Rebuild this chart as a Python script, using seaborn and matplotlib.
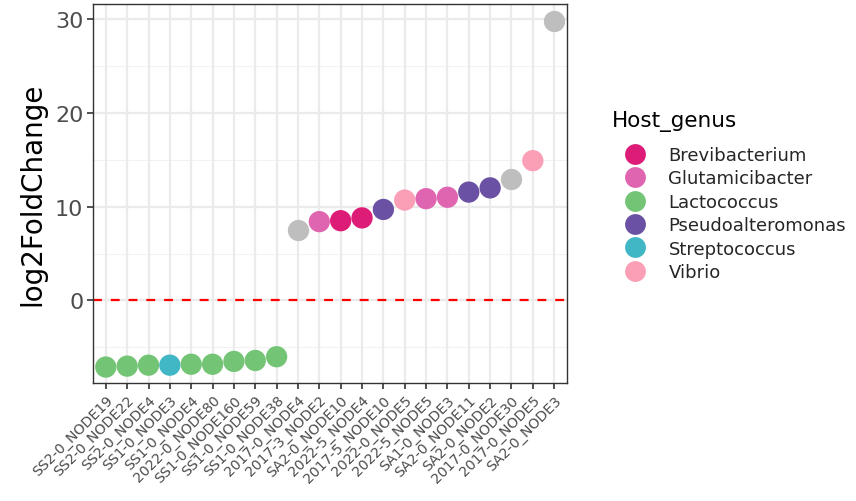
import matplotlib
matplotlib.use("Agg")
import matplotlib.pyplot as plt
import seaborn as sns
import pandas as pd
import numpy as np

# Nodes ordered by fold change
nodes = [
    "SS2-0_NODE19", "SS2-0_NODE22", "SS2-0_NODE4", "SS1-0_NODE3", "SS1-0_NODE4",
    "2022-0_NODE80", "SS1-0_NODE160", "SS1-0_NODE59", "SS1-0_NODE38",
    "2017-0_NODE4", "2017-3_NODE2", "SA2-0_NODE10", "2022-5_NODE4",
    "2017-5_NODE10", "2022-0_NODE5", "2022-5_NODE5", "SA1-0_NODE3",
    "SA2-0_NODE11", "SA2-0_NODE2", "2017-0_NODE30", "2017-0_NODE5", "SA2-0_NODE3",
]
log2fc = [
    -7.1, -7.0, -6.9, -6.9, -6.8, -6.8, -6.5, -6.4, -6.0,
    7.55, 8.4, 8.5, 8.8, 9.7, 10.7, 10.85, 11.0, 11.55, 12.0, 12.9, 14.9, 29.8,
]
host_genus = [
    "Lactococcus", "Lactococcus", "Lactococcus", "Streptococcus", "Lactococcus",
    "Lactococcus", "Lactococcus", "Lactococcus", "Lactococcus",
    None, "Glutamicibacter", "Brevibacterium", "Brevibacterium",
    "Pseudoalteromonas", "Vibrio", "Glutamicibacter", "Glutamicibacter",
    "Pseudoalteromonas", "Pseudoalteromonas", None, "Vibrio", None,
]

genera = ["Brevibacterium", "Glutamicibacter", "Lactococcus",
          "Pseudoalteromonas", "Streptococcus", "Vibrio"]
genus_colors = ["#DD1C77", "#DF65B0", "#74C476", "#6A51A3", "#41B6C4", "#FA9FB5"]
na_color = "#BEBEBE"

df = pd.DataFrame({"node": nodes, "log2FoldChange": log2fc, "Host_genus": host_genus})
df["node"] = pd.Categorical(df["node"], categories=nodes, ordered=True)
df["x"] = df["node"].cat.codes

sns.set_theme(style="white")
plt.rcParams["font.family"] = ["DejaVu Sans"]

fig = plt.figure(figsize=(8.56, 5.02), dpi=100)
ax = fig.add_axes([93 / 856, 1 - 384 / 502, (567 - 93) / 856, (384 - 5) / 502])

# grid lines (major + minor on y)
for yv in [-5, 5, 15, 25]:
    ax.axhline(yv, color="#F2F2F2", lw=0.8, zorder=0)
for yv in [0, 10, 20, 30]:
    ax.axhline(yv, color="#EBEBEB", lw=1.6, zorder=0)
for xv in range(len(nodes)):
    ax.axvline(xv, color="#EBEBEB", lw=1.6, zorder=0)

ax.axhline(0, color="#FF0000", lw=1.6, ls=(0, (4, 4)), zorder=1)

point_size = 235
na = df[df["Host_genus"].isna()]
ax.scatter(na["x"], na["log2FoldChange"], s=point_size, color=na_color,
           linewidths=0, zorder=2)

sns.scatterplot(
    data=df.dropna(subset=["Host_genus"]), x="x", y="log2FoldChange",
    hue="Host_genus", hue_order=genera, palette=genus_colors,
    s=point_size, linewidth=0, ax=ax, zorder=3, legend=False,
)

ax.set_xlim(-0.6, len(nodes) - 0.4)
ax.set_ylim(-8.8, 31.6)
ax.set_xticks(range(len(nodes)))
ax.set_xticklabels(nodes, rotation=45, ha="right", rotation_mode="anchor",
                   fontsize=10.2, color="#4D4D4D")
ax.set_yticks([0, 10, 20, 30])
ax.set_yticklabels(["0", "10", "20", "30"], fontsize=16, color="#4D4D4D")
ax.tick_params(axis="both", length=4, width=1.2, color="#333333",
               bottom=True, left=True, pad=3)
ax.set_xlabel("")
ax.set_ylabel("log2FoldChange", fontsize=20, color="black", labelpad=6)
for sp in ax.spines.values():
    sp.set_color("#333333")
    sp.set_linewidth(1.0)

# legend: title placed on its own, keys below
fig.text(612 / 856, 1 - 122 / 502, "Host_genus", fontsize=15.5,
         ha="left", va="center", color="black")
handles = [plt.Line2D([], [], marker="o", ls="", markersize=15, color=c,
                      markeredgewidth=0) for c in genus_colors]
leg = fig.legend(handles, genera, loc="upper left",
                 bbox_to_anchor=(617 / 856, 1 - 147 / 502), frameon=False,
                 fontsize=13, handletextpad=0.85, labelspacing=0.3,
                 borderaxespad=0, handlelength=2.0, borderpad=0)

fig.savefig("out.png", dpi=100)
